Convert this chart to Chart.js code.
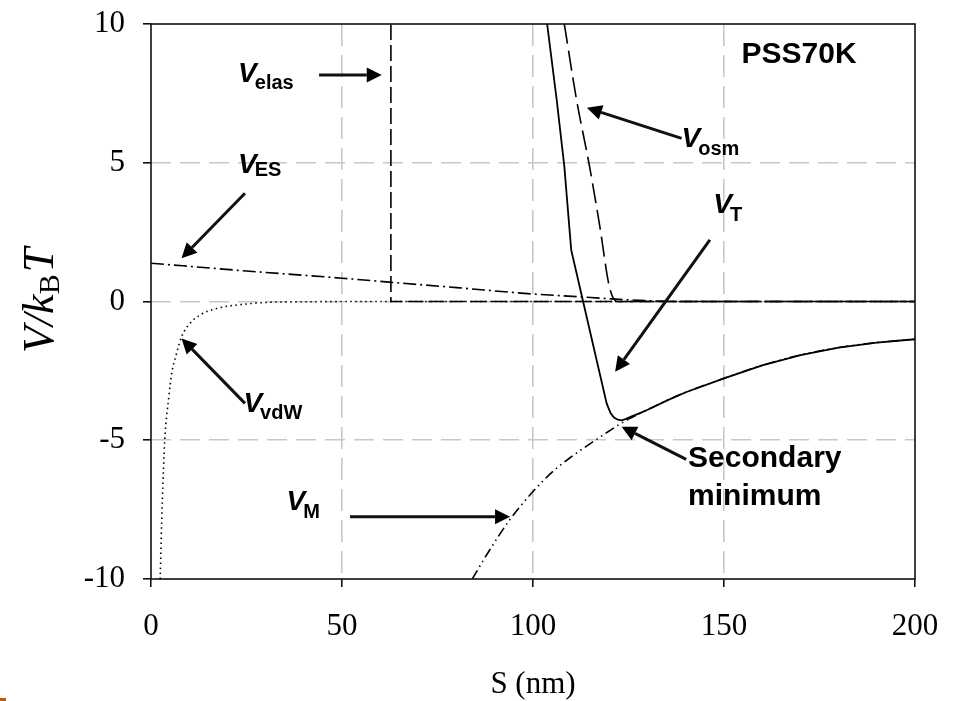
<!DOCTYPE html>
<html>
<head>
<meta charset="utf-8">
<script src="https://cdn.jsdelivr.net/npm/chart.js@4/dist/chart.umd.min.js"></script>
<style>
  html, body { margin: 0; padding: 0; background: #fff; }
  #wrap { position: relative; width: 958px; height: 701px; }
  #marca { position: absolute; left: 0; top: 698px; width: 6px; height: 3px; background: #c9540c; }
</style>
</head>
<body>
<div id="wrap">
  <canvas id="grafica" width="958" height="701"></canvas>
  <div id="marca"></div>
</div>
<script>
// ---- datos: separacion S (nm) y potencial V/kBT ----
const xTicks = [0, 50, 100, 150, 200];
const yTicks = [-10, -5, 0, 5, 10];

// V_T (total)
const vtS = [103.7, 106.2, 108.2, 110, 113.1, 116, 119.3, 120.3, 121.2, 122.2, 123.2, 124.2, 125.5, 128, 130, 135, 140, 150, 160, 170, 180, 190, 200];
const vtV = [10, 7.27, 4.87, 1.86, 0.01, -1.72, -3.68, -4.02, -4.18, -4.26, -4.28, -4.24, -4.16, -4.02, -3.9, -3.57, -3.27, -2.77, -2.3, -1.93, -1.66, -1.48, -1.36];

// V_osm
const osmS = [108.2, 111.4, 114.8, 117.5, 120, 122, 200];
const osmV = [10, 7.27, 4.87, 2.7, 0.53, 0, 0];

// V_elas
const elasS = [62.8, 62.8, 200];
const elasV = [10, 0, 0];

// V_ES
const esS = [0, 25, 50, 63, 80, 100, 112, 120, 130, 140, 200];
const esV = [1.38, 1.1, 0.84, 0.69, 0.5, 0.27, 0.17, 0.1, 0.03, 0, 0];

// V_vdW
const vdwS = [2.4, 2.96, 3.6, 4.7, 5.4, 6.7, 8, 10.2, 12.8, 17.2, 25, 30.3, 40, 63, 200];
const vdwV = [-10, -7.2, -5, -3.4, -2.6, -1.87, -1.27, -0.79, -0.49, -0.25, -0.09, -0.03, -0.01, 0, 0];

// V_M
const vmS = [84.1, 88, 94, 100, 105, 110, 115, 120, 122, 125, 128, 130, 135, 140, 150, 160, 170, 180, 190, 200];
const vmV = [-10, -9.1, -7.85, -6.85, -6.15, -5.6, -5.12, -4.66, -4.48, -4.24, -4.03, -3.9, -3.57, -3.27, -2.77, -2.3, -1.93, -1.66, -1.48, -1.36];

// etiquetas (S, V del punto de anclaje) y flechas [S cola, V cola, S punta, V punta]
const etiquetas = [
  { sub: "elas", s: 22.8, v: 7.92, baja: 7 },
  { sub: "ES", s: 22.8, v: 4.63, baja: 3 },
  { sub: "osm", s: 138.9, v: 5.58, baja: 8 },
  { sub: "T", s: 147.2, v: 3.18, baja: 8 },
  { sub: "vdW", s: 24.2, v: -3.97, baja: 7 },
  { sub: "M", s: 35.5, v: -7.51, baja: 8 }
];
const flechas = [
  [44.0, 8.16, 60.4, 8.16],
  [138.9, 5.88, 114.1, 6.98],
  [24.6, 3.9, 8.0, 1.56],
  [24.6, -3.67, 8.0, -1.33],
  [146.3, 2.22, 121.5, -2.53],
  [52.1, -7.76, 94.0, -7.76],
  [140.1, -5.69, 123.2, -4.51]
];

const pts = (xs, ys) => xs.map((x, i) => ({ x: x, y: ys[i] }));

function flecha(ctx, x1, y1, x2, y2) {
  const ang = Math.atan2(y2 - y1, x2 - x1);
  const largo = 15, ancho = 7.5;
  const bx = x2 - largo * Math.cos(ang), by = y2 - largo * Math.sin(ang);
  ctx.beginPath();
  ctx.moveTo(x1, y1);
  ctx.lineTo(bx, by);
  ctx.lineWidth = 3;
  ctx.stroke();
  ctx.beginPath();
  ctx.moveTo(x2, y2);
  ctx.lineTo(bx + ancho * Math.sin(ang), by - ancho * Math.cos(ang));
  ctx.lineTo(bx - ancho * Math.sin(ang), by + ancho * Math.cos(ang));
  ctx.closePath();
  ctx.fill();
}

// marco, titulos de ejes y anotaciones
const decor = {
  id: "decor",
  afterDraw(chart) {
    const { ctx, chartArea: a, scales } = chart;
    const X = scales.x, Y = scales.y;
    ctx.save();
    ctx.strokeStyle = "#111";
    ctx.fillStyle = "#000";
    ctx.lineWidth = 1.6;
    ctx.setLineDash([]);
    ctx.strokeRect(a.left, a.top, a.right - a.left, a.bottom - a.top);

    // titulo eje x
    ctx.font = "31px 'Liberation Serif'";
    ctx.textAlign = "center";
    ctx.textBaseline = "alphabetic";
    ctx.fillText("S (nm)", (a.left + a.right) / 2, 693);

    // titulo eje y
    ctx.save();
    ctx.translate(53, 353);
    ctx.rotate(-Math.PI / 2);
    ctx.textAlign = "left";
    ctx.font = "italic 44px 'Liberation Serif'";
    let w = ctx.measureText("V/k").width;
    ctx.fillText("V/k", 0, 0);
    ctx.font = "30px 'Liberation Serif'";
    ctx.fillText("B", w, 6);
    w += ctx.measureText("B").width + 2;
    ctx.font = "italic 44px 'Liberation Serif'";
    ctx.fillText("T", w, 0);
    ctx.restore();

    // etiquetas V_x
    ctx.textAlign = "left";
    etiquetas.forEach(e => {
      const px = X.getPixelForValue(e.s), py = Y.getPixelForValue(e.v);
      ctx.font = "italic bold 28px 'Liberation Sans'";
      ctx.fillText("V", px, py);
      const w = ctx.measureText("V").width - 2;
      ctx.font = "bold 20px 'Liberation Sans'";
      ctx.fillText(e.sub, px + w, py + e.baja);
    });

    ctx.font = "bold 30px 'Liberation Sans'";
    ctx.fillText("PSS70K", X.getPixelForValue(154.6), Y.getPixelForValue(8.58));
    ctx.fillText("Secondary", X.getPixelForValue(140.6), Y.getPixelForValue(-5.95));
    ctx.fillText("minimum", X.getPixelForValue(140.6), Y.getPixelForValue(-7.32));

    flechas.forEach(f => {
      flecha(ctx, X.getPixelForValue(f[0]), Y.getPixelForValue(f[1]),
                  X.getPixelForValue(f[2]), Y.getPixelForValue(f[3]));
    });
    ctx.restore();
  }
};

const esBorde = (v, lo, hi) => v === lo || v === hi;

new Chart(document.getElementById("grafica"), {
  type: "scatter",
  data: {
    datasets: [
      { label: "V_vdW", data: pts(vdwS, vdwV), borderDash: [1.5, 3.5], borderWidth: 1.6 },
      { label: "V_ES", data: pts(esS, esV), borderDash: [13, 4, 2, 4], borderWidth: 1.6 },
      { label: "V_elas", data: pts(elasS, elasV), borderDash: [16, 5], borderWidth: 1.6, cubicInterpolationMode: "default" },
      { label: "V_M", data: pts(vmS, vmV), borderDash: [10, 4, 1.5, 4, 1.5, 4], borderWidth: 1.6 },
      { label: "V_osm", data: pts(osmS, osmV), borderDash: [20, 7], borderWidth: 1.6 },
      { label: "V_T", data: pts(vtS, vtV), borderWidth: 1.8, cubicInterpolationMode: "default", tension: 0 }
    ].map(d => Object.assign({
      showLine: true,
      pointRadius: 0,
      borderColor: "#000",
      backgroundColor: "#000",
      fill: false,
      cubicInterpolationMode: "monotone"
    }, d))
  },
  options: {
    responsive: false,
    animation: false,
    events: [],
    layout: { padding: { top: 24, right: 43, left: 0, bottom: 0 } },
    plugins: { legend: { display: false }, tooltip: { enabled: false } },
    scales: {
      x: {
        type: "linear",
        min: 0, max: 200,
        afterFit: s => { s.height = 122; s.paddingLeft = 0; s.paddingRight = 0; },
        afterBuildTicks: s => { s.ticks = xTicks.map(v => ({ value: v })); },
        border: { display: false, dash: [22, 9] },
        grid: {
          color: c => esBorde(c.tick && c.tick.value, 0, 200) ? "rgba(0,0,0,0)" : "#c8c8c8",
          lineWidth: 1.6,
          tickColor: "#111",
          tickBorderDash: [],
          tickWidth: 1.6,
          tickLength: 8
        },
        ticks: {
          color: "#000",
          padding: 21,
          maxRotation: 0,
          font: { family: "'Liberation Serif'", size: 31 }
        }
      },
      y: {
        type: "linear",
        min: -10, max: 10,
        afterFit: s => { s.width = 151; s.paddingTop = 0; s.paddingBottom = 0; },
        afterBuildTicks: s => { s.ticks = yTicks.map(v => ({ value: v })); },
        border: { display: false, dash: [20, 9] },
        grid: {
          color: c => esBorde(c.tick && c.tick.value, -10, 10) ? "rgba(0,0,0,0)" : "#c8c8c8",
          lineWidth: 1.6,
          tickColor: "#111",
          tickBorderDash: [],
          tickWidth: 1.6,
          tickLength: 8
        },
        ticks: {
          color: "#000",
          padding: 18,
          font: { family: "'Liberation Serif'", size: 31 }
        }
      }
    }
  },
  plugins: [decor]
});
</script>
</body>
</html>
